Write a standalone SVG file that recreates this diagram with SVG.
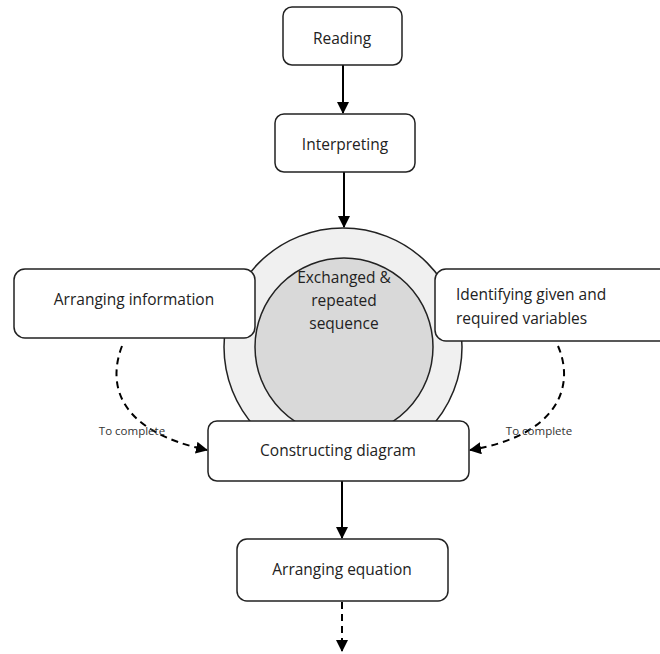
<svg xmlns="http://www.w3.org/2000/svg" width="660" height="654" viewBox="0 0 660 654">
<defs>
<marker id="ah" viewBox="0 0 12 12" refX="11" refY="6" markerWidth="12" markerHeight="12" markerUnits="userSpaceOnUse" orient="auto">
<path d="M0,0 L12,6 L0,12 Z" fill="#000"/>
</marker>
</defs>
<style>
.box{fill:#fff;stroke:#222;stroke-width:1.5}
.t{font-family:"Open Sans","Liberation Sans",sans-serif;font-size:15.5px;fill:#222}
.s{font-family:"Open Sans","Liberation Sans",sans-serif;font-size:11.5px;fill:#333}
.c{fill:none;stroke:#000;stroke-width:2}
.d{fill:none;stroke:#000;stroke-width:2;stroke-dasharray:7,5}
</style>
<rect width="660" height="654" fill="#fff"/>
<g id="cycle">
<circle cx="343" cy="347" r="119" fill="#f0f0f0" stroke="#222" stroke-width="1.5"/>
<circle cx="344" cy="347" r="89" fill="#d9d9d9" stroke="#222" stroke-width="1.5"/>
<text class="t" text-anchor="middle" x="344" y="283">Exchanged &amp;</text>
<text class="t" text-anchor="middle" x="344" y="306">repeated</text>
<text class="t" text-anchor="middle" x="344" y="329">sequence</text>
</g>
<g id="connectors">
<line class="c" x1="343" y1="65" x2="343" y2="113" marker-end="url(#ah)"/>
<line class="c" x1="344" y1="172" x2="344" y2="227" marker-end="url(#ah)"/>
<line class="c" x1="342" y1="481" x2="342" y2="538" marker-end="url(#ah)"/>
<line class="d" x1="342" y1="602" x2="342" y2="651" marker-end="url(#ah)"/>
<path class="d" d="M122,346 C106,388 122,432 207,450" marker-end="url(#ah)"/>
<path class="d" d="M558,346 C576,388 556,436 470,450" marker-end="url(#ah)"/>
<text class="s" text-anchor="middle" x="132" y="435">To complete</text>
<text class="s" text-anchor="middle" x="539" y="435">To complete</text>
</g>
<g id="reading">
<rect class="box" x="283" y="7" width="119" height="58" rx="9"/>
<text class="t" text-anchor="middle" x="342" y="44">Reading</text>
</g>
<g id="interpreting">
<rect class="box" x="275" y="114" width="140" height="58" rx="9"/>
<text class="t" text-anchor="middle" x="345" y="150">Interpreting</text>
</g>
<g id="arranging-info">
<rect class="box" x="14" y="269" width="241" height="69" rx="11"/>
<text class="t" text-anchor="middle" x="134" y="305">Arranging information</text>
</g>
<g id="identifying">
<rect class="box" x="435" y="269" width="240" height="72" rx="11"/>
<text class="t" x="456" y="300">Identifying given and</text>
<text class="t" x="456" y="324">required variables</text>
</g>
<g id="constructing">
<rect class="box" x="208" y="421" width="261" height="60" rx="9"/>
<text class="t" text-anchor="middle" x="338" y="456">Constructing diagram</text>
</g>
<g id="arranging-eq">
<rect class="box" x="237" y="539" width="211" height="62" rx="10"/>
<text class="t" text-anchor="middle" x="342" y="575">Arranging equation</text>
</g>
</svg>
